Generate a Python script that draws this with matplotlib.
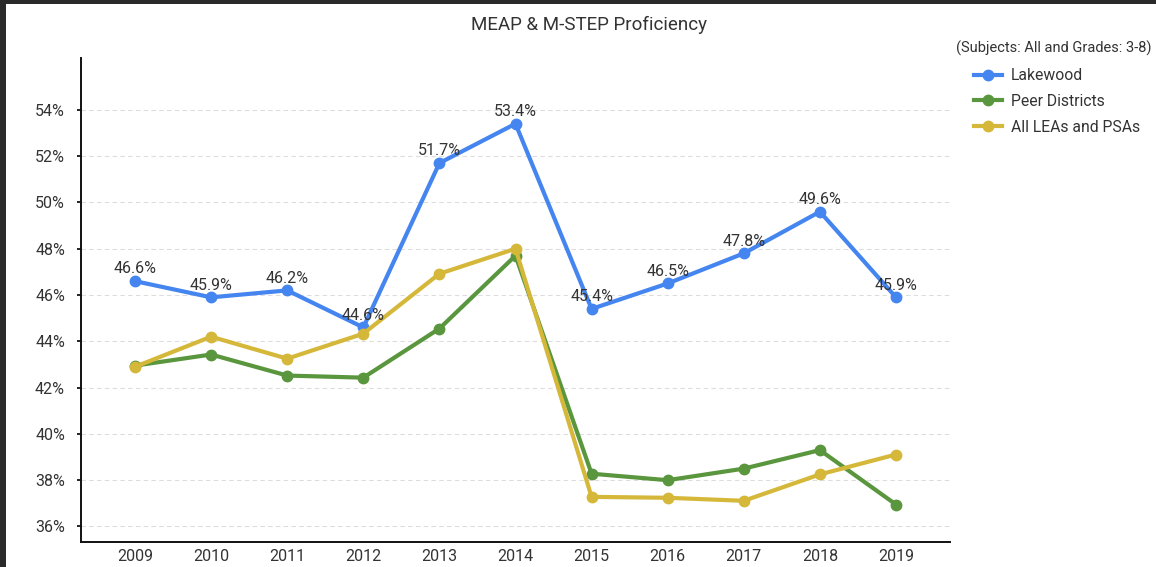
import matplotlib
matplotlib.use("Agg")
import matplotlib.pyplot as plt
from matplotlib.patches import Rectangle
from matplotlib.ticker import FuncFormatter, FixedLocator

years = [2009, 2010, 2011, 2012, 2013, 2014, 2015, 2016, 2017, 2018, 2019]
lakewood = [46.6, 45.9, 46.2, 44.6, 51.7, 53.4, 45.4, 46.5, 47.8, 49.6, 45.9]
peer = [42.95, 43.43, 42.52, 42.43, 44.55, 47.7, 38.28, 38.0, 38.5, 39.3, 36.95]
all_leas = [42.9, 44.2, 43.25, 44.33, 46.92, 48.0, 37.28, 37.24, 37.11, 38.25, 39.11]
series_names = ["Lakewood", "Peer Districts", "All LEAs and PSAs"]
y_ticks = [36, 38, 40, 42, 44, 46, 48, 50, 52, 54]

colors = ["#4485f0", "#5a963e", "#d5b83a"]
FONT = ["Roboto", "Liberation Sans", "DejaVu Sans"]
plt.rcParams["font.family"] = FONT

fig = plt.figure(figsize=(11.56, 5.67), dpi=100)
fig.patch.set_facecolor("#2a2a2a")
fig.patches.append(Rectangle((6 / 1156, 0), 1 - 6 / 1156, 1 - 4 / 567,
                             transform=fig.transFigure, facecolor="white",
                             edgecolor="none", zorder=-10))

ax = fig.add_axes([81 / 1156, 1 - 542 / 567, (950 - 81) / 1156, (542 - 58) / 567])
ax.set_facecolor("white")
ax.set_zorder(1)

x = list(range(len(years)))
handles = []
for vals, c, name in zip([lakewood, peer, all_leas], colors, series_names):
    h, = ax.plot(x, vals, color=c, lw=3.0, marker="o", ms=7.5, label=name, zorder=3)
    handles.append(h)

for xi, v in zip(x, lakewood):
    ax.annotate(f"{v:.1f}%", (xi, v), xytext=(0, 5.5), textcoords="offset points",
                ha="center", va="baseline", fontsize=11.5, color="#333333", zorder=4)

ax.set_xlim(-0.71, 10.71)
ax.set_ylim(35.33, 56.24)
ax.yaxis.set_major_locator(FixedLocator(y_ticks))
ax.yaxis.set_major_formatter(FuncFormatter(lambda v, p: f"{v:.0f}%"))
ax.set_xticks(x)
ax.set_xticklabels([str(y) for y in years])
ax.tick_params(axis="x", length=0, labelsize=11.5, pad=5)
ax.tick_params(axis="y", length=3, width=1.2, labelsize=11.5, pad=8.5)
for lbl in ax.get_yticklabels() + ax.get_xticklabels():
    lbl.set_color("#333333")
ax.grid(axis="y", color="#dddddd", linestyle=(0, (4, 3)), lw=0.8)
ax.set_axisbelow(True)
for s in ["top", "right"]:
    ax.spines[s].set_visible(False)
for s in ["left", "bottom"]:
    ax.spines[s].set_color("#111111")
    ax.spines[s].set_linewidth(1.4)

fig.text(589 / 1156, 1 - 25 / 567, "MEAP & M-STEP Proficiency", ha="center", va="center",
         fontsize=13.5, color="#333333")
fig.text(1152 / 1156, 1 - 48 / 567, "(Subjects: All and Grades: 3-8)", ha="right", va="center",
         fontsize=10.5, color="#333333")

leg = fig.legend(handles=handles, labels=series_names, loc="upper left",
                 bbox_to_anchor=(974 / 1156, 1 - 68 / 567), frameon=False,
                 handlelength=1.8, handletextpad=0.55, labelspacing=0.7, fontsize=11.3,
                 borderaxespad=0, borderpad=0)
for t in leg.get_texts():
    t.set_color("#333333")

fig.savefig("out.png", dpi=100, facecolor=fig.get_facecolor())
